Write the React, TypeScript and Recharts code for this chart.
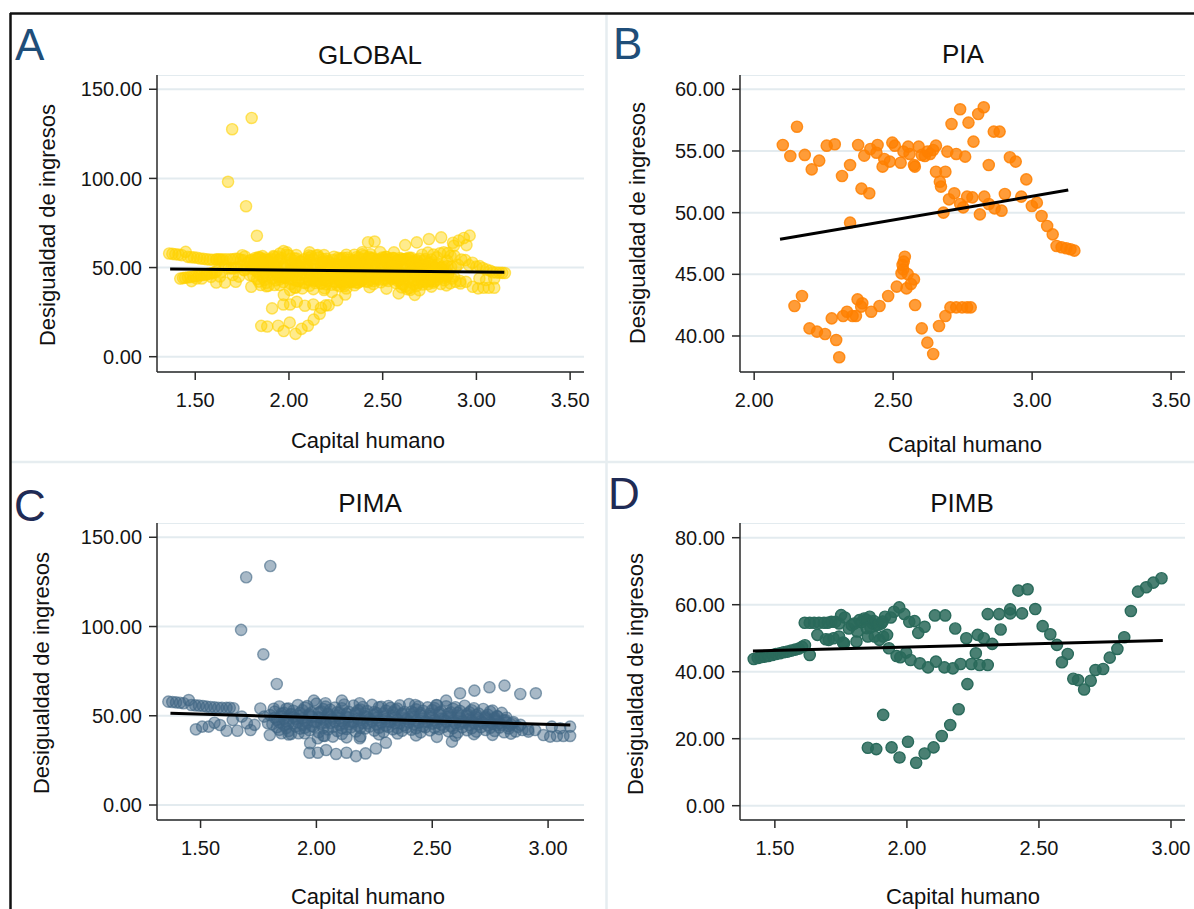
import React from "react";
import { ScatterChart, Scatter, XAxis, YAxis, CartesianGrid } from "recharts";

const FONT = '"Liberation Sans", Arial, Helvetica, sans-serif';

type Row = [number, number];

// ---- PIA (panel B) ----
const piaHigh: Row[] = [
  [2.103, 55.49], [2.13, 54.59], [2.154, 56.97], [2.182, 54.68], [2.207, 53.51],
  [2.234, 54.22], [2.261, 55.43], [2.29, 55.54], [2.316, 52.97], [2.345, 53.86],
  [2.374, 55.49], [2.386, 51.95], [2.396, 54.62], [2.414, 51.57], [2.418, 55.16],
  [2.44, 54.86], [2.444, 55.49], [2.462, 53.73], [2.468, 54.35], [2.488, 54.14],
  [2.497, 55.68], [2.506, 55.43], [2.527, 54.05], [2.537, 54.95], [2.554, 55.35],
  [2.559, 54.76], [2.575, 53.86], [2.578, 53.73], [2.592, 55.35], [2.603, 54.68],
  [2.614, 54.59], [2.623, 54.95], [2.633, 54.76], [2.644, 55.08], [2.654, 55.43],
  [2.654, 53.32], [2.668, 52.51], [2.672, 52.11], [2.688, 53.32], [2.695, 54.95],
  [2.71, 57.19], [2.727, 54.76], [2.741, 58.38], [2.759, 54.54], [2.771, 57.3],
  [2.789, 55.76], [2.806, 58.0], [2.826, 58.54], [2.844, 53.86], [2.862, 56.57],
  [2.883, 56.57], [2.92, 54.49], [2.941, 54.14], [2.979, 52.7],
];
const piaMid: Row[] = [
  [2.345, 49.19], [2.681, 50.0], [2.701, 51.08], [2.72, 51.57], [2.741, 50.7],
  [2.752, 50.43], [2.766, 51.3], [2.785, 51.24], [2.812, 49.86], [2.828, 51.3],
  [2.844, 50.7], [2.865, 50.35], [2.89, 50.16], [2.902, 51.51], [2.961, 51.3],
  [2.999, 50.54], [3.017, 50.81], [3.034, 49.73], [3.054, 48.92], [3.074, 48.24],
  [3.088, 47.3], [3.106, 47.19], [3.123, 47.11], [3.138, 47.03], [3.152, 46.92],
];
const piaLow: Row[] = [
  [2.145, 42.43], [2.172, 43.24], [2.199, 40.62], [2.226, 40.35], [2.255, 40.16],
  [2.279, 41.43], [2.295, 39.68], [2.306, 38.27], [2.32, 41.62], [2.334, 41.97],
  [2.354, 41.62], [2.366, 41.62], [2.372, 42.97], [2.389, 42.65], [2.385, 42.38],
  [2.421, 41.97], [2.451, 42.43], [2.482, 43.24], [2.513, 44.0], [2.53, 45.08],
  [2.534, 45.76], [2.538, 46.03], [2.542, 46.43], [2.536, 45.4], [2.548, 43.86],
  [2.552, 45.03], [2.564, 44.22], [2.575, 44.59], [2.579, 42.51], [2.603, 40.62],
  [2.623, 39.46], [2.644, 38.54], [2.665, 40.81], [2.688, 41.62], [2.706, 42.32],
  [2.727, 42.32], [2.748, 42.32], [2.766, 42.32], [2.779, 42.32],
];

// ---- PIMA (panel C) ----
const pimaOutliers: Row[] = [
  [1.697, 127.6], [1.801, 133.9], [1.675, 98.1], [1.771, 84.4], [1.829, 67.8],
];
const pimaLeft: Row[] = [
  [1.361, 57.9], [1.378, 57.7], [1.394, 57.5], [1.411, 57.3], [1.427, 57.0],
  [1.449, 58.8], [1.46, 56.0], [1.477, 55.8], [1.493, 55.7], [1.51, 55.5],
  [1.526, 55.1], [1.543, 54.9], [1.56, 54.7], [1.576, 54.5], [1.592, 54.4],
  [1.612, 54.4], [1.626, 54.5], [1.642, 54.2],
  [1.48, 42.4], [1.507, 43.9], [1.535, 43.9], [1.56, 46.1], [1.584, 44.8],
  [1.612, 41.6], [1.639, 47.6], [1.659, 41.6], [1.678, 49.5], [1.716, 42.0],
  [1.7, 45.8], [1.733, 44.9], [1.758, 54.1], [1.791, 45.8], [1.799, 39.2],
  [1.816, 53.9], [1.774, 49.5],
];
const pimaCore: Row[] = [
  [1.84, 55.2], [1.88, 54.1], [1.92, 56.0], [1.96, 55.4], [2.0, 56.8], [2.04, 55.1],
  [2.08, 54.6], [2.12, 56.3], [2.16, 55.7], [2.2, 54.9], [2.24, 56.1], [2.28, 55.0],
  [2.32, 54.4], [2.36, 55.8], [2.4, 56.5], [2.44, 55.2], [2.48, 54.7], [2.52, 55.9],
  [2.56, 55.3], [2.6, 54.8], [2.64, 55.6], [2.68, 54.2], [2.72, 53.8], [2.76, 52.9],
  [2.8, 51.6],
  [1.82, 52.3], [1.86, 51.6], [1.9, 52.8], [1.94, 53.1], [1.98, 51.9], [2.02, 52.5],
  [2.06, 53.4], [2.1, 51.8], [2.14, 52.2], [2.18, 53.0], [2.22, 52.6], [2.26, 51.5],
  [2.3, 52.9], [2.34, 53.3], [2.38, 52.1], [2.42, 51.7], [2.46, 52.8], [2.5, 53.2],
  [2.54, 52.4], [2.58, 51.9], [2.62, 52.7], [2.66, 52.0], [2.7, 51.3], [2.74, 50.6],
  [2.78, 49.8], [2.82, 48.9],
  [1.8, 50.4], [1.85, 49.6], [1.89, 50.8], [1.93, 49.9], [1.97, 50.3], [2.01, 49.2],
  [2.05, 50.7], [2.09, 50.1], [2.13, 49.5], [2.17, 50.9], [2.21, 49.8], [2.25, 50.5],
  [2.29, 49.3], [2.33, 50.2], [2.37, 50.8], [2.41, 49.7], [2.45, 50.4], [2.49, 49.9],
  [2.53, 50.6], [2.57, 49.4], [2.61, 50.1], [2.65, 49.8], [2.69, 49.2], [2.73, 48.7],
  [2.77, 48.1], [2.81, 47.3], [2.85, 46.5],
  [1.83, 47.8], [1.87, 46.9], [1.91, 48.3], [1.95, 47.2], [1.99, 46.6], [2.03, 47.9],
  [2.07, 48.4], [2.11, 47.1], [2.15, 46.8], [2.19, 47.6], [2.23, 48.2], [2.27, 47.4],
  [2.31, 46.9], [2.35, 47.8], [2.39, 48.1], [2.43, 47.3], [2.47, 46.7], [2.51, 47.5],
  [2.55, 48.0], [2.59, 47.2], [2.63, 46.8], [2.67, 47.4], [2.71, 47.0], [2.75, 46.3],
  [2.79, 45.8], [2.84, 45.1],
  [1.81, 45.3], [1.86, 44.6], [1.9, 45.8], [1.94, 44.9], [1.98, 44.2], [2.02, 45.5],
  [2.06, 46.0], [2.1, 44.8], [2.14, 45.2], [2.18, 44.4], [2.22, 45.7], [2.26, 45.1],
  [2.3, 44.5], [2.34, 45.9], [2.38, 44.7], [2.42, 45.3], [2.46, 44.1], [2.5, 45.6],
  [2.54, 45.0], [2.58, 44.3], [2.62, 45.4], [2.66, 44.8], [2.7, 45.2], [2.74, 44.6],
  [2.78, 44.9], [2.83, 44.2], [2.87, 43.8],
  [1.84, 42.1], [1.88, 41.4], [1.93, 42.8], [1.97, 41.9], [2.01, 40.8], [2.05, 42.3],
  [2.09, 41.5], [2.13, 42.6], [2.17, 41.2], [2.21, 42.9], [2.25, 41.7], [2.29, 40.9],
  [2.33, 42.4], [2.37, 41.6], [2.41, 42.2], [2.45, 40.7], [2.49, 41.8], [2.53, 42.5],
  [2.57, 41.3], [2.61, 40.6], [2.65, 41.9], [2.69, 41.1], [2.73, 42.0], [2.77, 41.5],
  [2.81, 40.8], [2.86, 41.2],
  [1.88, 39.5], [1.95, 40.2], [2.03, 38.8], [2.11, 39.8], [2.19, 38.4], [2.27, 39.6],
  [2.35, 40.1], [2.43, 39.0], [2.52, 38.2], [2.6, 38.9], [2.68, 39.7], [2.76, 39.3],
  [2.84, 40.0],
  [1.87, 53.9], [1.95, 54.6], [2.03, 53.7], [2.11, 54.2], [2.19, 53.5], [2.27, 54.8],
  [2.35, 54.0], [2.43, 53.6], [2.51, 54.3], [2.59, 53.9], [2.67, 53.1], [2.75, 52.4],
];
const pimaCoreExtra: Row[] = [
  [1.85, 51.2], [1.89, 50.9], [1.93, 51.6], [1.97, 51.0], [2.01, 51.8], [2.05, 51.3],
  [2.09, 52.0], [2.13, 51.1], [2.17, 51.7], [2.21, 51.2], [2.25, 52.1], [2.29, 51.4],
  [2.33, 51.9], [2.37, 51.3], [2.41, 52.3], [2.45, 51.5], [2.49, 51.1], [2.53, 51.8],
  [2.57, 51.2], [2.61, 51.6], [2.65, 50.9], [2.69, 50.4], [2.73, 49.6], [2.77, 48.9],
  [1.82, 48.9], [1.86, 48.2], [1.9, 49.1], [1.94, 48.6], [1.98, 49.3], [2.02, 48.7],
  [2.06, 49.2], [2.1, 48.5], [2.14, 49.0], [2.18, 48.4], [2.22, 49.1], [2.26, 48.8],
  [2.3, 48.3], [2.34, 49.0], [2.38, 48.6], [2.42, 49.2], [2.46, 48.5], [2.5, 48.9],
  [2.54, 48.4], [2.58, 48.9], [2.62, 48.6], [2.66, 48.2], [2.7, 47.9], [2.74, 47.5],
  [2.78, 46.9], [2.82, 46.2],
  [1.84, 46.3], [1.88, 45.9], [1.92, 46.5], [1.96, 46.0], [2.0, 46.7], [2.04, 46.2],
  [2.08, 46.6], [2.12, 45.9], [2.16, 46.4], [2.2, 46.0], [2.24, 46.7], [2.28, 46.1],
  [2.32, 46.5], [2.36, 45.8], [2.4, 46.3], [2.44, 46.0], [2.48, 46.5], [2.52, 46.1],
  [2.56, 46.6], [2.6, 45.9], [2.64, 46.2], [2.68, 45.8], [2.72, 46.1], [2.76, 45.5],
  [2.8, 44.9],
  [1.83, 43.6], [1.87, 43.1], [1.91, 43.9], [1.95, 43.3], [1.99, 43.8], [2.03, 43.2],
  [2.07, 43.7], [2.11, 43.0], [2.15, 43.6], [2.19, 43.2], [2.23, 43.9], [2.27, 43.3],
  [2.31, 43.7], [2.35, 43.1], [2.39, 43.5], [2.43, 43.0], [2.47, 43.6], [2.51, 43.2],
  [2.55, 43.8], [2.59, 43.1], [2.63, 43.5], [2.67, 43.0], [2.71, 43.6], [2.75, 43.2],
  [2.79, 43.4], [2.83, 42.9],
];
const pimaLow: Row[] = [
  [1.849, 40.2], [1.89, 39.8], [1.923, 40.2], [1.973, 34.6], [1.97, 29.3],
  [2.006, 29.3], [2.042, 30.8], [2.085, 28.6], [2.13, 29.3], [2.171, 27.4],
  [2.212, 28.9], [2.257, 31.7], [2.3, 34.9], [2.006, 37.4], [2.035, 38.7],
  [2.071, 38.3], [2.13, 37.9], [2.187, 37.4], [2.585, 35.5],
];
const pimaHigh: Row[] = [
  [1.989, 58.5], [2.039, 57.0], [2.11, 58.5], [2.187, 57.0], [2.311, 55.5],
  [2.427, 56.0], [2.518, 56.0], [2.56, 58.5], [2.62, 62.6], [2.682, 64.1],
  [2.747, 66.0], [2.812, 66.9], [2.88, 62.2], [2.947, 62.6],
];
const pimaTail: Row[] = [
  [2.848, 45.8], [2.889, 42.0], [2.915, 41.1], [2.944, 42.0], [2.98, 39.2],
  [3.009, 38.3], [3.038, 38.7], [3.066, 38.7], [3.095, 38.7], [3.095, 43.9],
  [3.016, 43.9], [3.052, 43.0], [2.914, 42.4], [2.881, 44.9], [2.815, 47.6],
  [2.782, 49.5],
];

// ---- PIMB (panel D) ----
const pimbRise: Row[] = [
  [1.42, 43.8], [1.435, 44.1], [1.446, 44.3], [1.461, 44.5], [1.475, 44.7],
  [1.49, 45.0], [1.504, 45.3], [1.519, 45.5], [1.533, 45.8], [1.548, 46.0],
  [1.562, 46.3], [1.577, 46.6], [1.591, 46.9], [1.603, 47.4], [1.614, 47.9],
  [1.632, 45.0],
];
const pimbBand: Row[] = [
  [1.613, 54.6], [1.632, 54.6], [1.649, 54.6], [1.667, 54.6], [1.686, 54.6],
  [1.7, 54.6], [1.714, 54.9], [1.729, 54.9], [1.743, 54.4], [1.751, 56.9],
  [1.765, 56.2], [1.661, 51.0], [1.693, 49.7], [1.704, 49.5], [1.722, 50.0],
  [1.743, 50.5], [1.758, 48.7], [1.762, 48.5], [1.78, 52.9], [1.791, 53.9],
  [1.801, 54.4], [1.809, 49.0], [1.82, 55.4], [1.838, 55.9], [1.852, 50.5],
  [1.859, 56.4], [1.87, 54.4], [1.878, 50.5], [1.884, 53.9], [1.896, 49.5],
  [1.903, 54.4], [1.91, 50.5], [1.917, 56.4], [1.925, 51.0], [1.932, 47.0],
  [1.939, 56.2], [1.951, 57.9], [1.961, 44.7], [1.971, 59.2], [1.975, 44.3],
  [1.99, 57.2], [1.997, 45.7], [2.009, 54.9], [2.014, 43.5], [2.029, 55.1],
  [2.043, 51.6], [2.049, 42.5], [2.067, 53.4], [2.08, 41.3], [2.106, 56.8],
  [2.11, 43.0], [2.142, 41.3], [2.145, 56.8], [2.174, 41.0], [2.183, 52.9],
  [2.203, 42.3], [2.225, 50.0], [2.229, 36.3], [2.244, 42.3], [2.261, 45.5],
  [2.268, 51.0], [2.275, 42.0], [2.291, 50.0], [2.306, 42.0], [2.306, 57.2],
  [2.323, 48.3], [2.349, 57.2], [2.355, 52.6], [2.391, 57.4], [2.391, 58.6],
  [2.422, 64.2], [2.436, 57.4], [2.457, 64.6], [2.486, 58.7], [2.514, 53.6],
  [2.543, 51.2], [2.568, 48.0], [2.587, 42.8], [2.609, 45.3], [2.63, 37.9],
  [2.648, 37.5], [2.671, 34.7], [2.696, 37.3], [2.714, 40.5], [2.743, 40.8],
  [2.768, 44.2], [2.797, 46.8], [2.823, 50.3], [2.848, 58.1], [2.875, 63.9],
  [2.906, 65.2], [2.933, 66.6], [2.964, 67.9],
  [1.828, 54.8], [1.845, 55.6], [1.862, 53.2], [1.875, 55.1], [1.892, 54.0],
  [1.908, 55.0], [1.848, 53.0], [1.812, 52.0],
];
const pimbLoop: Row[] = [
  [1.91, 27.1], [1.852, 17.3], [1.884, 16.9], [1.942, 17.4], [1.972, 14.4],
  [2.004, 19.1], [2.035, 12.8], [2.067, 15.6], [2.101, 17.4], [2.132, 20.8],
  [2.164, 24.1], [2.196, 28.8],
];

const piaPoints = [...piaHigh, ...piaMid, ...piaLow];
const pimaPoints = [
  ...pimaLeft, ...pimaCore, ...pimaCoreExtra, ...pimaLow, ...pimaHigh, ...pimaTail, ...pimaOutliers,
];
const pimbPoints = [...pimbRise, ...pimbBand, ...pimbLoop];
const globalPoints = [...piaPoints, ...pimaPoints, ...pimbPoints];

// fitted lines
const fitGlobal: Row[] = [[1.366, 49.2], [3.149, 47.4]];
const fitPia: Row[] = [[2.093, 47.84], [3.13, 51.83]];
const fitPima: Row[] = [[1.37, 51.4], [3.096, 44.8]];
const fitPimb: Row[] = [[1.417, 46.2], [2.969, 49.3]];

const xTicksGlobal = [1.5, 2, 2.5, 3, 3.5];
const xTicksPia = [2, 2.5, 3, 3.5];
const xTicksLow = [1.5, 2, 2.5, 3];
const yTicksWide = [0, 50, 100, 150];
const yTicksPia = [40, 45, 50, 55, 60];
const yTicksPimb = [0, 20, 40, 60, 80];

const toXY = (rows: Row[]) => rows.map(([x, y]) => ({ x, y }));

interface DotStyle {
  fill: string;
  fillOpacity: number;
  stroke: string;
  strokeOpacity: number;
}

interface PanelProps {
  left: number;
  top: number;
  plotW: number;
  right: number;
  xDomain: [number, number];
  xTicks: number[];
  yDomain: [number, number];
  yTicks: number[];
  points: Row[];
  fit: Row[];
  dot: DotStyle;
}

const YW = 90;
const XH = 45;
const PH = 297;

function Panel({ left, top, plotW, right, xDomain, xTicks, yDomain, yTicks, points, fit, dot }: PanelProps) {
  const axisStyle = { stroke: "#2a2a2a", strokeWidth: 1.5 };
  const tickStyle = { fontSize: 20, fill: "#151515", fontFamily: FONT };
  return (
    <div style={{ position: "absolute", left: left - YW, top }}>
      <ScatterChart
        width={YW + plotW + right}
        height={PH + XH}
        margin={{ top: 0, right, bottom: 0, left: 0 }}
      >
        <CartesianGrid vertical={false} stroke="#e3ebef" strokeWidth={2} />
        <XAxis
          type="number"
          dataKey="x"
          domain={xDomain}
          ticks={xTicks}
          allowDataOverflow
          interval={0}
          height={XH}
          tickSize={8}
          tickMargin={13}
          tickFormatter={(v: number) => v.toFixed(2)}
          tick={tickStyle}
          axisLine={axisStyle}
          tickLine={axisStyle}
        />
        <YAxis
          type="number"
          dataKey="y"
          domain={yDomain}
          ticks={yTicks}
          allowDataOverflow
          interval={0}
          width={YW}
          tickSize={8}
          tickMargin={7}
          tickFormatter={(v: number) => v.toFixed(2)}
          tick={tickStyle}
          axisLine={axisStyle}
          tickLine={axisStyle}
        />
        <Scatter
          data={toXY(points)}
          isAnimationActive={false}
          shape={(p: any) => (
            <circle
              cx={p.cx}
              cy={p.cy}
              r={5.6}
              fill={dot.fill}
              fillOpacity={dot.fillOpacity}
              stroke={dot.stroke}
              strokeOpacity={dot.strokeOpacity}
              strokeWidth={1.4}
            />
          )}
        />
        <Scatter
          data={toXY(fit)}
          isAnimationActive={false}
          legendType="none"
          line={{ stroke: "#000", strokeWidth: 3 }}
          shape={() => <g />}
        />
      </ScatterChart>
    </div>
  );
}

export default function App() {
  return (
    <div
      style={{
        position: "absolute",
        left: 0,
        top: 0,
        width: 1194,
        height: 909,
        background: "#fff",
        overflow: "hidden",
        fontFamily: FONT,
      }}
    >
      <svg width={1194} height={909} style={{ position: "absolute", left: 0, top: 0 }}>
        {/* frame + panel dividers */}
        <line x1={11} y1={462} x2={1194} y2={462} stroke="#e6edf0" strokeWidth={2.5} />
        <line x1={606.5} y1={15} x2={606.5} y2={909} stroke="#e6edf0" strokeWidth={2.5} />
        <line x1={10} y1={13.5} x2={1194} y2={13.5} stroke="#111" strokeWidth={2.5} />
        <line x1={10.5} y1={13} x2={10.5} y2={909} stroke="#111" strokeWidth={2.5} />

        {/* panel letters */}
        <text x={15} y={60} fontSize={44} fill="#1f4e79">A</text>
        <text x={613} y={59} fontSize={44} fill="#1f4e79">B</text>
        <text x={14} y={521} fontSize={44} fill="#1f2b55">C</text>
        <text x={608} y={509} fontSize={44} fill="#1f2b55">D</text>

        {/* titles */}
        <g fontSize={26} fill="#111" textAnchor="middle">
          <text x={370} y={64}>GLOBAL</text>
          <text x={963} y={63}>PIA</text>
          <text x={370} y={512}>PIMA</text>
          <text x={962} y={512}>PIMB</text>
        </g>

        {/* axis titles */}
        <g fontSize={22} fill="#111" textAnchor="middle">
          <text transform="translate(55,225) rotate(-90)">Desigualdad de ingresos</text>
          <text transform="translate(645,223) rotate(-90)">Desigualdad de ingresos</text>
          <text transform="translate(49,673) rotate(-90)">Desigualdad de ingresos</text>
          <text transform="translate(643,674) rotate(-90)">Desigualdad de ingresos</text>
          <text x={368} y={448}>Capital humano</text>
          <text x={965} y={452}>Capital humano</text>
          <text x={368} y={904}>Capital humano</text>
          <text x={963} y={904}>Capital humano</text>
        </g>
      </svg>

      <Panel
        left={157}
        top={75}
        plotW={427}
        right={12}
        xDomain={[1.296, 3.574]}
        xTicks={xTicksGlobal}
        yDomain={[-8.58, 158]}
        yTicks={yTicksWide}
        points={globalPoints}
        fit={fitGlobal}
        dot={{ fill: "#ffd200", fillOpacity: 0.45, stroke: "#ffd200", strokeOpacity: 0.6 }}
      />
      <Panel
        left={740}
        top={75}
        plotW={445}
        right={8}
        xDomain={[1.949, 3.55]}
        xTicks={xTicksPia}
        yDomain={[37.08, 61.16]}
        yTicks={yTicksPia}
        points={piaPoints}
        fit={fitPia}
        dot={{ fill: "#ff8000", fillOpacity: 0.78, stroke: "#ff8000", strokeOpacity: 0.85 }}
      />
      <Panel
        left={157}
        top={523}
        plotW={427}
        right={12}
        xDomain={[1.312, 3.155]}
        xTicks={xTicksLow}
        yDomain={[-8.4, 158]}
        yTicks={yTicksWide}
        points={pimaPoints}
        fit={fitPima}
        dot={{ fill: "#3e6482", fillOpacity: 0.45, stroke: "#3e6482", strokeOpacity: 0.6 }}
      />
      <Panel
        left={740}
        top={523}
        plotW={445}
        right={8}
        xDomain={[1.368, 3.053]}
        xTicks={xTicksLow}
        yDomain={[-4.27, 84.39]}
        yTicks={yTicksPimb}
        points={pimbPoints}
        fit={fitPimb}
        dot={{ fill: "#2a6a5b", fillOpacity: 0.85, stroke: "#2a6a5b", strokeOpacity: 1 }}
      />
    </div>
  );
}
